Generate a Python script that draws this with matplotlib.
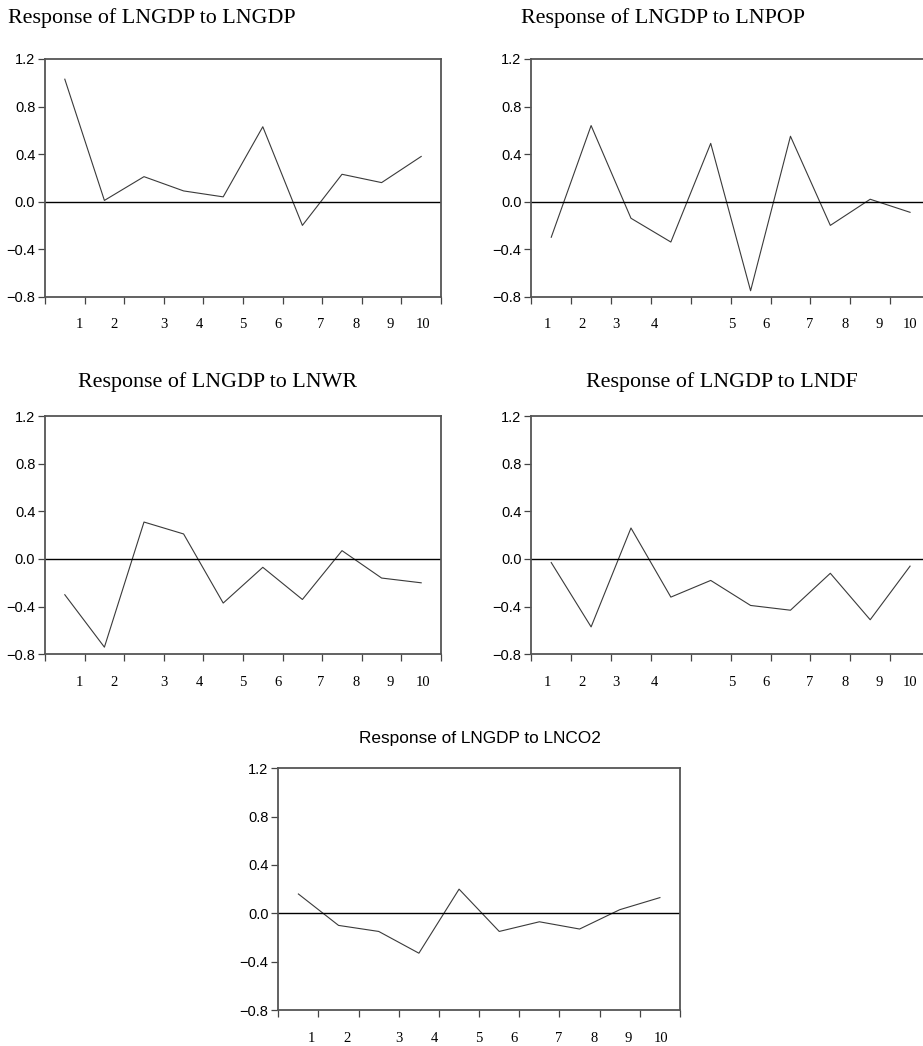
import numpy as np
import matplotlib.pyplot as plt
import matplotlib.transforms as mtransforms

# impulse responses, periods 1..10 (plotted at interval midpoints)
periods = np.arange(1, 11)
resp_gdp = [1.03, 0.01, 0.21, 0.09, 0.04, 0.63, -0.20, 0.23, 0.16, 0.38]
resp_pop = [-0.30, 0.64, -0.14, -0.34, 0.49, -0.75, 0.55, -0.20, 0.02, -0.09]
resp_wr = [-0.30, -0.74, 0.31, 0.21, -0.37, -0.07, -0.34, 0.07, -0.16, -0.20]
resp_df = [-0.03, -0.57, 0.26, -0.32, -0.18, -0.39, -0.43, -0.12, -0.51, -0.06]
resp_co2 = [0.16, -0.10, -0.15, -0.33, 0.20, -0.15, -0.07, -0.13, 0.03, 0.13]

titles = ["Response of LNGDP to LNGDP", "Response of LNGDP to LNPOP",
          "Response of LNGDP to LNWR", "Response of LNGDP to LNDF",
          "Response of LNGDP to LNCO2"]
tick_labels = [str(p) for p in periods]
# where the period labels sit under each axis (as printed in the source)
label_pos_a = [0.87, 1.74, 3.01, 3.90, 4.99, 5.88, 6.96, 7.85, 8.71, 9.54]
label_pos_b = [0.40, 1.26, 2.12, 3.08, 5.03, 5.89, 6.97, 7.87, 8.73, 9.50]
label_pos_c = [0.83, 1.71, 3.00, 3.88, 5.00, 5.86, 6.97, 7.86, 8.71, 9.53]
yticks = [-0.8, -0.4, 0.0, 0.4, 0.8, 1.2]

W, H = 923, 1046
fig = plt.figure(figsize=(W / 100, H / 100), dpi=100)

serif = ['Liberation Serif', 'DejaVu Serif']
sans = ['Liberation Sans', 'DejaVu Sans']

# (left, top, right, bottom) in pixels
boxes = [(45, 59, 441, 296.7), (531.3, 59, 930, 296.7),
         (45, 416, 441, 654.3), (531.3, 416, 930, 654.3),
         (278.3, 768.3, 680, 1010)]
series = [resp_gdp, resp_pop, resp_wr, resp_df, resp_co2]
label_sets = [label_pos_a, label_pos_b, label_pos_a, label_pos_b, label_pos_c]
# title centre (x, y) in pixels
title_xy = [(152, 18), (663, 18), (218, 382), (722, 382), (480, 738)]

for i in range(5):
    l, t, r, b = boxes[i]
    ax = fig.add_axes([l / W, 1 - b / H, (r - l) / W, (b - t) / H])
    ax.plot(periods - 0.5, series[i], color='#3a3a3a', lw=0.8)
    ax.axhline(0, color='black', lw=1.0)
    ax.set_xlim(0, 10)
    ax.set_ylim(-0.8, 1.2)
    ax.set_yticks(yticks)
    ax.set_yticklabels([('%.1f' % v).replace('-', '\u2212') for v in yticks],
                       fontfamily=sans, fontsize=10.5)
    ax.set_xticks(np.arange(0, 11))
    ax.set_xticklabels([])
    ax.tick_params(axis='x', direction='out', length=5, width=0.9, color='#444444')
    ax.tick_params(axis='y', direction='out', length=5, width=0.9, color='#444444', pad=2)
    for sp in ax.spines.values():
        sp.set_color('#555555')
        sp.set_linewidth(1.3)
    trans = mtransforms.blended_transform_factory(ax.transData, ax.transAxes)
    for pos, lab in zip(label_sets[i], tick_labels):
        ax.text(pos, -28 / (b - t), lab, transform=trans, ha='center', va='center',
                fontfamily=serif, fontsize=10.5)
    tx, ty = title_xy[i]
    if i < 4:
        fig.text(tx / W, 1 - ty / H, titles[i], ha='center', va='center',
                 fontfamily=serif, fontsize=15.8)
    else:
        fig.text(tx / W, 1 - ty / H, titles[i], ha='center', va='center',
                 fontfamily=sans, fontsize=12.4)

fig.savefig('out.png', dpi=100)
